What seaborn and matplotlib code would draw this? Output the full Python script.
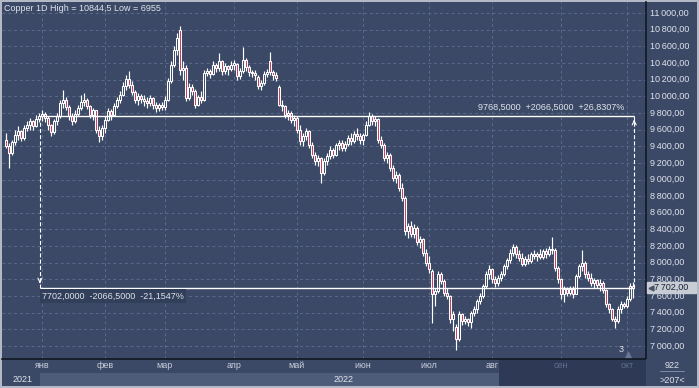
import numpy as np
import pandas as pd
import matplotlib
matplotlib.use("Agg")
import matplotlib.pyplot as plt
import matplotlib.transforms as mtransforms
import seaborn as sns

# daily copper candles, 16 Dec 2021 .. 5 Oct 2022
open_ = [
    9480, 9400, 9320, 9450, 9540, 9580, 9500, 9620, 9650, 9700, 9640, 9730,
    9768.5, 9790, 9740, 9650, 9570, 9700, 9760, 9920, 9960, 9870, 9760, 9700, 9790, 9860, 9930, 9960, 9880, 9780, 9830, 9600, 9520,
    9620, 9720, 9820, 9770, 9880, 9950, 10020, 10120, 10210, 10140, 10050, 9960, 10000, 9970, 9940, 9920, 9980, 9890, 9860, 9890,
    9870, 9960, 10180, 10380, 10550, 10800, 10320, 10340, 9980, 10110, 10060, 9900, 9990, 9960, 10280, 10300, 10270, 10380, 10340, 10420, 10300, 10360, 10330,
    10380, 10390, 10240, 10300, 10440, 10350, 10290, 10280, 10230, 10120, 10160, 10270, 10420, 10290, 10260, 10110, 9900, 9880, 9780, 9800, 9710,
    9740, 9600, 9460, 9520, 9580, 9420, 9300, 9220, 9260, 9080, 9220, 9280, 9360, 9300, 9410, 9440, 9380, 9430, 9500, 9460, 9550, 9520,
    9480, 9540, 9660, 9760, 9700, 9730, 9480, 9420, 9260, 9300, 9140, 9020, 9060, 8900, 8780, 8380, 8440, 8350, 8420, 8250, 8280, 8120,
    8000, 7900, 7620, 7660, 7860, 7780, 7640, 7600, 7320, 7230, 7080, 7380, 7300, 7320, 7290, 7400, 7450, 7540, 7600, 7720, 7860,
    7920, 7800, 7760, 7820, 7870, 7960, 8030, 8120, 8190, 8100, 8060, 7990, 8050, 8020, 8100, 8080, 8110, 8070, 8140, 8100, 8170, 8150, 7940,
    7800, 7620, 7680, 7640, 7690, 7630, 7840, 7960, 8000, 7860, 7820, 7760, 7790, 7730, 7760, 7670, 7500, 7440, 7320, 7300, 7450, 7500,
    7480, 7560, 7720,
]
high = [
    9560, 9440, 9480, 9600, 9640, 9600, 9650, 9700, 9740, 9720, 9780, 9800,
    9830, 9810, 9760, 9670, 9730, 9800, 9950, 10070, 9990, 9900, 9800, 9830, 9890, 10010, 10040, 9980, 9900, 9860, 9840, 9640, 9660,
    9760, 9860, 9850, 9920, 9990, 10060, 10170, 10260, 10300, 10180, 10080, 10040, 10030, 10010, 9990, 10020, 9990, 9930, 9920, 9930,
    10000, 10220, 10420, 10600, 10760, 10844.5, 10420, 10380, 10160, 10150, 10090, 10020, 10060, 10320, 10340, 10330, 10420, 10400, 10520, 10430, 10400, 10380, 10420,
    10430, 10400, 10340, 10590, 10460, 10370, 10320, 10310, 10250, 10200, 10300, 10330, 10530, 10320, 10290, 10140, 9960, 9900, 9840, 9820, 9780,
    9760, 9650, 9560, 9620, 9600, 9450, 9330, 9300, 9270, 9260, 9320, 9400, 9380, 9440, 9480, 9470, 9460, 9530, 9560, 9580, 9620, 9560,
    9560, 9700, 9810, 9790, 9760, 9740, 9520, 9440, 9330, 9320, 9180, 9100, 9080, 8960, 8800, 8480, 8500, 8460, 8440, 8320, 8300, 8160,
    8080, 7920, 7700, 7900, 7890, 7800, 7700, 7610, 7420, 7260, 7420, 7400, 7360, 7340, 7420, 7480, 7560, 7640, 7740, 7900, 7970,
    7940, 7840, 7850, 7900, 7990, 8060, 8160, 8230, 8210, 8150, 8120, 8080, 8100, 8130, 8150, 8130, 8160, 8160, 8180, 8200, 8310, 8180, 7960,
    7820, 7720, 7710, 7720, 7720, 7860, 7990, 8150, 8020, 7900, 7880, 7820, 7810, 7800, 7780, 7680, 7520, 7460, 7360, 7480, 7540, 7530,
    7600, 7760, 7770,
]
low = [
    9380, 9140, 9290, 9420, 9480, 9460, 9480, 9580, 9600, 9600, 9630, 9690,
    9700, 9690, 9600, 9520, 9550, 9660, 9740, 9860, 9830, 9720, 9650, 9680, 9760, 9830, 9880, 9850, 9740, 9720, 9560, 9450, 9480,
    9560, 9700, 9720, 9760, 9860, 9920, 10000, 10080, 10100, 10010, 9920, 9900, 9920, 9880, 9860, 9880, 9850, 9810, 9820, 9830,
    9840, 9940, 10160, 10350, 10500, 10250, 10200, 9940, 9960, 10020, 9860, 9880, 9920, 9940, 10240, 10220, 10260, 10290, 10300, 10260, 10270, 10250, 10300,
    10320, 10200, 10210, 10280, 10300, 10240, 10230, 10200, 10090, 10080, 10140, 10230, 10260, 10200, 10180, 9880, 9820, 9740, 9720, 9680, 9640,
    9560, 9420, 9400, 9470, 9380, 9260, 9180, 9160, 8960, 9050, 9180, 9250, 9260, 9280, 9360, 9340, 9340, 9400, 9420, 9440, 9480, 9430,
    9420, 9520, 9640, 9660, 9640, 9440, 9380, 9220, 9200, 9100, 8980, 8960, 8860, 8740, 8330, 8300, 8310, 8300, 8210, 8180, 8080, 7960,
    7880, 7280, 7480, 7640, 7740, 7600, 7560, 7280, 7180, 6955, 7060, 7250, 7260, 7240, 7220, 7360, 7400, 7500, 7580, 7700, 7800,
    7760, 7710, 7720, 7780, 7840, 7930, 8000, 8080, 8060, 8020, 7960, 7960, 7980, 8000, 8040, 8020, 8050, 8050, 8060, 8080, 8110, 7900, 7760,
    7560, 7530, 7600, 7610, 7580, 7620, 7820, 7900, 7820, 7780, 7720, 7700, 7700, 7660, 7640, 7470, 7400, 7300, 7220, 7280, 7400, 7460,
    7460, 7540, 7580,
]
close = [
    9400, 9320, 9450, 9540, 9580, 9500, 9620, 9650, 9700, 9640, 9730, 9768.5,
    9790, 9740, 9650, 9570, 9700, 9760, 9920, 9960, 9870, 9760, 9700, 9790, 9860, 9930, 9960, 9880, 9780, 9830, 9600, 9520, 9620,
    9720, 9820, 9770, 9880, 9950, 10020, 10120, 10210, 10140, 10050, 9960, 10000, 9970, 9940, 9920, 9980, 9890, 9860, 9890, 9870,
    9960, 10180, 10380, 10550, 10700, 10320, 10340, 9980, 10110, 10060, 9900, 9990, 9960, 10280, 10300, 10270, 10380, 10340, 10420, 10300, 10360, 10330, 10380,
    10400, 10240, 10300, 10440, 10350, 10290, 10280, 10250, 10120, 10160, 10270, 10290, 10290, 10260, 10220, 9900, 9880, 9780, 9800, 9710, 9740,
    9600, 9460, 9520, 9580, 9420, 9300, 9220, 9260, 9080, 9220, 9280, 9360, 9300, 9410, 9440, 9380, 9430, 9500, 9460, 9550, 9520, 9480,
    9540, 9660, 9760, 9700, 9730, 9480, 9420, 9260, 9300, 9140, 9020, 9060, 8900, 8780, 8380, 8440, 8350, 8420, 8250, 8280, 8120, 8000,
    7920, 7620, 7660, 7860, 7780, 7640, 7600, 7320, 7380, 7080, 7380, 7300, 7320, 7290, 7400, 7450, 7540, 7600, 7720, 7860, 7920,
    7800, 7760, 7820, 7870, 7960, 8030, 8120, 8190, 8100, 8060, 7990, 8050, 8020, 8100, 8080, 8110, 8070, 8140, 8100, 8170, 8150, 7940, 7800,
    7620, 7680, 7640, 7690, 7630, 7840, 7960, 8000, 7860, 7820, 7760, 7790, 7730, 7760, 7670, 7500, 7440, 7320, 7300, 7450, 7500, 7480,
    7560, 7720, 7702,
]

start_date = "2021-12-16"
ru_months = {1: "янв", 2: "фев", 3: "мар", 4: "апр", 5: "май", 6: "июн",
             7: "июл", 8: "авг", 9: "сен", 10: "окт"}
dim_months = [9, 10]
price_ticks = list(range(7000, 11001, 200))
ref_price = 9768.5        # measured from the 31 Dec close
last_price = 7702.0
ref_date = "2021-12-31"
shade_from = "2022-08-04"
bar_count = "922"
bar_visible = ">207<"
marker_label = "3"

BG = "#3b4967"
PANEL = "#3b4967"
RED = "#c83a5a"
GRID = "#5b6b8b"
TXT = "#dfe3ea"

sns.set_style("dark")
plt.rcParams["font.family"] = ["Liberation Sans", "DejaVu Sans"]
plt.rcParams["font.size"] = 6.5

n = len(close)
dates = pd.bdate_range(start_date, periods=n)
idx = np.arange(n)
o, h, l, c = (np.array(a, dtype=float) for a in (open_, high, low, close))
h = np.maximum(h, np.maximum(o, c))
l = np.minimum(l, np.minimum(o, c))
up = c >= o

month_starts = [i for i in range(1, n) if dates[i].month != dates[i - 1].month]
year_start = [i for i in range(1, n) if dates[i].year != dates[i - 1].year][0]

W, H = 699, 388
fig = plt.figure(figsize=(W / 100, H / 100), dpi=100, facecolor="#b4bac5")

def box(x0, y0, x1, y1):
    return [x0 / W, 1 - y1 / H, (x1 - x0) / W, (y1 - y0) / H]

ax = fig.add_axes(box(2, 2, 646, 359))
ax_r = fig.add_axes(box(646, 2, 697, 359), sharey=ax)
ax_b = fig.add_axes(box(2, 359, 646, 386), sharex=ax)
ax_c = fig.add_axes(box(646, 359, 697, 386))

# x: 3 px per trading day, first candle at x=6
xlim = ((2 - 6) / 3, (646 - 6) / 3)
# y: 11000 at y=13 px, 200 per 16.65 px
ppx = 200 / 16.65
ylim = (11000 - (359 - 13) * ppx, 11000 + (13 - 2) * ppx)

for a in (ax, ax_r, ax_b, ax_c):
    a.set_facecolor(PANEL)
    for s in a.spines.values():
        s.set_visible(False)
    a.tick_params(length=0, labelleft=False, labelbottom=False)

ax.set_facecolor(BG)
ax.set_xlim(*xlim)
ax.set_ylim(*ylim)
ax.set_yticks(price_ticks)
ax.set_xticks(month_starts)
ax.grid(True, color=GRID, lw=0.7, ls=(0, (3, 3)))

# candles
ax.vlines(idx, l, h, color="white", lw=0.85, zorder=2)
ax.bar(idx[up], (c - o)[up], bottom=o[up], width=0.85, color=BG,
       edgecolor="white", linewidth=0.75, zorder=3)
ax.bar(idx[~up], (o - c)[~up], bottom=c[~up], width=0.85, color=RED,
       edgecolor="white", linewidth=0.75, zorder=3)

# title
ax.text(2 / 644, 1 - 6 / 357, f"Copper 1D High = {max(h):g} Low = {min(l):g}".replace(".", ","),
        transform=ax.transAxes, color=TXT, ha="left", va="center", fontsize=6.5)

# measurement tool
i0 = list(dates).index(pd.Timestamp(ref_date)) + 0.3
i1 = n - 1 + 0.4
diff = ref_price - last_price
ax.hlines([ref_price, last_price], i0, i1, color="white", lw=1.0, zorder=4)
ax.vlines([i0, i1], last_price, ref_price, color="white", lw=0.8,
          linestyles=(0, (3.6, 2)), zorder=4)
head = "->,head_length=0.45,head_width=0.22"
ax.annotate("", xy=(i0, last_price + 15), xytext=(i0, last_price + 110),
            arrowprops=dict(arrowstyle=head, color="white", lw=0.8), zorder=5)
ax.annotate("", xy=(i1, ref_price - 15), xytext=(i1, ref_price - 110),
            arrowprops=dict(arrowstyle=head, color="white", lw=0.8), zorder=5)

def fmt4(v):
    return f"{v:.4f}".replace(".", ",")

up_txt = f"{fmt4(ref_price)}  +{fmt4(diff)}  +{diff / last_price * 100:.4f}%".replace(".", ",")
dn_txt = f"{fmt4(last_price)}  -{fmt4(diff)}  -{diff / ref_price * 100:.4f}%".replace(".", ",")
ax.annotate(up_txt, xy=(n - 4, ref_price), xytext=(0, 3), textcoords="offset points",
            ha="right", va="bottom", color=TXT, fontsize=6.5, zorder=5)
ax.annotate(dn_txt, xy=(i0, last_price), xytext=(1.5, -6), textcoords="offset points",
            ha="left", va="center", color=TXT, fontsize=6.5, zorder=5,
            bbox=dict(boxstyle="square,pad=0.25", fc="#323f5b", ec="none"))

# small marker near the bottom right
bl = mtransforms.blended_transform_factory(ax.transData, ax.transAxes)
ax.text(205, 0.014, marker_label, transform=bl, color=TXT, ha="center", va="bottom", fontsize=6.5)
ax.plot([207.5], [0.012], marker="^", ms=4, color="#6a7896", transform=bl, clip_on=False)

# right price scale
ax_r.spines["left"].set_visible(True)
ax_r.spines["left"].set_color("#111722")
ax_r.spines["left"].set_linewidth(1.2)
ax_r.set_xlim(0, 1)
for v in price_ticks:
    lab = f"{v:,.2f}".replace(",", "\u2009").replace(".", ",")
    ax_r.text(0.08, v, lab, color=TXT, ha="left", va="center", fontsize=6.5)
ax_r.axhspan(last_price - 62, last_price + 62, xmin=0.02, xmax=0.98, color="#c7ccd5", zorder=3)
ax_r.plot([0.1], [last_price], marker="<", ms=3.5, color="#4a5266", zorder=4)
ax_r.text(0.15, last_price, f"{last_price:,.2f}".replace(",", "\u2009").replace(".", ","),
          color="#1b2232", ha="left", va="center", fontsize=6.5, zorder=4)

# bottom time scale
ax_b.spines["top"].set_visible(True)
ax_b.spines["top"].set_color("#111722")
ax_b.spines["top"].set_linewidth(1.2)
ax_b.set_ylim(0, 1)
i_shade = list(dates).index(pd.Timestamp(shade_from)) - 0.5
ax_b.axvspan(year_start - 0.5, i_shade, ymin=0, ymax=13 / 27, color="#4d5c79", lw=0)
ax_b.axvspan(i_shade, xlim[1], ymin=0, ymax=1, color="#2e3a55", lw=0)
for i in month_starts:
    m = dates[i].month
    ax_b.text(i, 1 - 7 / 27, ru_months[m], ha="center", va="center", fontsize=6.5,
              color="#5e6e8c" if m in dim_months else "#c9cfdb")
ax_b.text((xlim[0] + year_start) / 2 + 0.3, 7 / 27, str(dates[0].year),
          ha="center", va="center", color=TXT, fontsize=6.5)
ax_b.text((year_start + xlim[1]) / 2, 7 / 27, str(dates[year_start].year),
          ha="center", va="center", color=TXT, fontsize=6.5)

# corner counter
ax_c.set_xlim(0, 1)
ax_c.set_ylim(0, 1)
ax_c.text(0.51, 0.76, bar_count, ha="center", va="center", color=TXT, fontsize=6.5)
ax_c.plot([0.28, 0.74], [0.54, 0.54], color="#8c96aa", lw=0.6)
ax_c.text(0.51, 0.22, bar_visible, ha="center", va="center", color=TXT, fontsize=6.5)

fig.savefig("out.png", dpi=100, facecolor=fig.get_facecolor())
